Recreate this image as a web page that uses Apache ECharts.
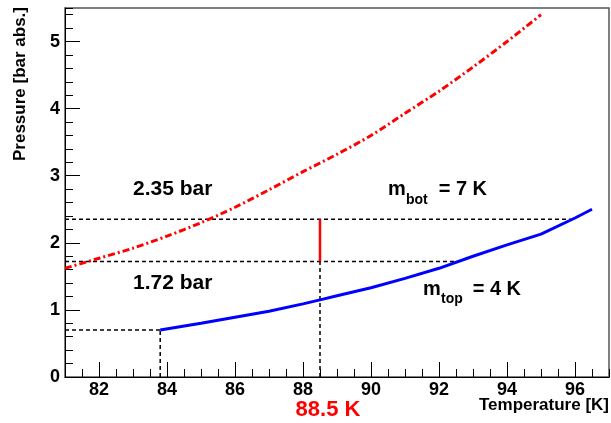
<!DOCTYPE html>
<html>
<head>
<meta charset="utf-8">
<script src="https://cdn.jsdelivr.net/npm/echarts@6/dist/echarts.min.js"></script>
<style>html,body{margin:0;padding:0;background:#fff}#c{width:611px;height:423px}</style>
</head>
<body>
<div id="c"></div>
<script>
// ---- data ----
var xTicks = [82, 84, 86, 88, 90, 92, 94, 96];
var yTicks = [0, 1, 2, 3, 4, 5];
// blue: top condition (solid)
var blueT = [83.8, 85, 86, 87, 88, 88.5, 89, 90, 91, 92, 93, 94, 95, 96, 96.5];
var blueP = [0.70, 0.80, 0.89, 0.98, 1.09, 1.15, 1.21, 1.33, 1.47, 1.62, 1.80, 1.97, 2.13, 2.37, 2.50];
// red: bottom condition (dash-dot)
var redT = [81, 82, 83, 84, 85, 86, 87, 88, 89, 90, 91, 92, 93, 94, 95];
var redP = [1.62, 1.77, 1.92, 2.10, 2.30, 2.53, 2.79, 3.06, 3.32, 3.60, 3.93, 4.26, 4.62, 5.00, 5.40];
// reference values
var tOp = 88.5;
var pTop = 1.72, pBot = 2.35;
var tTriple = 83.8, pTriple = 0.70;
var tTopCross = 92.57, tBotCross = 95.92;
var xMin = 81, xMax = 97, yMin = 0, yMax = 5.5;

function pairs(a, b) { return a.map(function (v, i) { return [v, b[i]]; }); }

var FONT = '"Liberation Sans", Arial, sans-serif';
var dashStyle = { color: '#000', width: 1.5, type: [4, 3] };

function seg(data, style) {
  return { type: 'line', data: data, symbol: 'none', lineStyle: style, silent: true, animation: false, z: 2 };
}
function txt(x, y, s, size, align, color) {
  return { type: 'text', x: x, y: y,
    style: { text: s, align: align || 'left', verticalAlign: 'middle', fill: color || '#000', font: 'bold ' + size + 'px ' + FONT } };
}

var chart = echarts.init(document.getElementById('c'), null, { renderer: 'canvas' });
chart.setOption({
  animation: false,
  grid: { left: 65, right: 2, top: 8, bottom: 46, show: true, borderColor: '#555', borderWidth: 1.5, backgroundColor: '#fff' },
  xAxis: [{
    type: 'value', min: xMin, max: xMax, position: 'bottom',
    axisLine: { show: true, lineStyle: { color: '#000', width: 1 } },
    axisTick: { show: true, inside: true, length: 15, customValues: xTicks, lineStyle: { color: '#000', width: 1 } },
    axisLabel: { show: true, customValues: xTicks, margin: 4, color: '#000', fontFamily: FONT, fontWeight: 'bold', fontSize: 18 },
    splitLine: { show: false }
  }, {
    type: 'value', min: xMin, max: xMax, interval: 0.5, position: 'bottom',
    axisLine: { show: false },
    axisTick: { show: true, inside: true, length: 8, lineStyle: { color: '#000', width: 1 } },
    axisLabel: { show: false }, splitLine: { show: false }
  }],
  yAxis: [{
    type: 'value', min: yMin, max: yMax, position: 'left',
    axisLine: { show: true, lineStyle: { color: '#000', width: 1 } },
    axisTick: { show: true, inside: true, length: 15, customValues: yTicks, lineStyle: { color: '#000', width: 1 } },
    axisLabel: { show: true, customValues: yTicks, margin: 5, color: '#000', fontFamily: FONT, fontWeight: 'bold', fontSize: 18 },
    splitLine: { show: false }
  }, {
    type: 'value', min: yMin, max: yMax, interval: 0.2, position: 'left',
    axisLine: { show: false },
    axisTick: { show: true, inside: true, length: 8, lineStyle: { color: '#000', width: 1 } },
    axisLabel: { show: false }, splitLine: { show: false }
  }],
  series: [
    seg([[xMin, pTriple], [tTriple, pTriple]], dashStyle),
    seg([[tTriple, yMin], [tTriple, pTriple]], dashStyle),
    seg([[xMin, pTop], [tTopCross, pTop]], dashStyle),
    seg([[xMin, pBot], [tBotCross, pBot]], dashStyle),
    seg([[tOp, yMin], [tOp, pTop]], dashStyle),
    seg([[tOp, pTop], [tOp, pBot]], { color: '#ff0000', width: 2.5, type: 'solid' }),
    { type: 'line', data: pairs(blueT, blueP), symbol: 'none', smooth: false, z: 3,
      lineStyle: { color: '#0000ff', width: 3 } },
    { type: 'line', data: pairs(redT, redP), symbol: 'none', smooth: 0.3, z: 3,
      lineStyle: { color: '#ff0000', width: 3, type: [7, 3, 2, 3] } }
  ],
  graphic: [
    { type: 'text', x: 20, y: 7, rotation: Math.PI / 2,
      style: { text: 'Pressure [bar abs.]', align: 'right', verticalAlign: 'middle', fill: '#000', font: 'bold 17px ' + FONT } },
    txt(609, 405, 'Temperature [K]', 17, 'right'),
    txt(328, 410, tOp.toFixed(1) + ' K', 22, 'center', '#ff0000'),
    txt(133, 189, pBot.toFixed(2) + ' bar', 21, 'left'),
    txt(133, 283, pTop.toFixed(2) + ' bar', 21, 'left'),
    txt(388, 189, 'm', 20, 'left'),
    txt(406, 200, 'bot', 14, 'left'),
    txt(487, 189, '= 7 K', 20, 'right'),
    txt(423, 289, 'm', 20, 'left'),
    txt(441, 299, 'top', 14, 'left'),
    txt(521, 289, '= 4 K', 20, 'right')
  ]
});
</script>
</body>
</html>
